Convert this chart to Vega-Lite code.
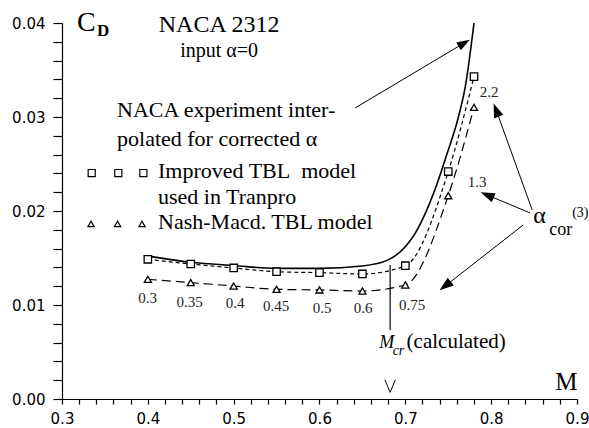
{
  "$schema": "https://vega.github.io/schema/vega-lite/v6.json",
  "width": 515,
  "height": 376,
  "autosize": {"type": "none"},
  "padding": {"left": 62, "top": 23, "right": 12, "bottom": 29},
  "background": "white",
  "config": {"view": {"stroke": null}},
  "datasets": {
    "curves": [
      {"series": "naca", "M": 0.40, "CD": 0.0152},
      {"series": "naca", "M": 0.45, "CD": 0.01455},
      {"series": "naca", "M": 0.50, "CD": 0.0142},
      {"series": "naca", "M": 0.55, "CD": 0.0139},
      {"series": "naca", "M": 0.60, "CD": 0.0139},
      {"series": "naca", "M": 0.65, "CD": 0.01415},
      {"series": "naca", "M": 0.68, "CD": 0.0148},
      {"series": "naca", "M": 0.70, "CD": 0.0162},
      {"series": "naca", "M": 0.71, "CD": 0.0174},
      {"series": "naca", "M": 0.72, "CD": 0.0191},
      {"series": "naca", "M": 0.737, "CD": 0.0229},
      {"series": "naca", "M": 0.749, "CD": 0.0262},
      {"series": "naca", "M": 0.761, "CD": 0.0297},
      {"series": "naca", "M": 0.770, "CD": 0.0333},
      {"series": "naca", "M": 0.780, "CD": 0.0400},
      {"series": "tbl", "M": 0.40, "CD": 0.01486},
      {"series": "tbl", "M": 0.45, "CD": 0.01436},
      {"series": "tbl", "M": 0.50, "CD": 0.01394},
      {"series": "tbl", "M": 0.55, "CD": 0.01354},
      {"series": "tbl", "M": 0.60, "CD": 0.01344},
      {"series": "tbl", "M": 0.65, "CD": 0.0133},
      {"series": "tbl", "M": 0.70, "CD": 0.01418},
      {"series": "tbl", "M": 0.75, "CD": 0.0242},
      {"series": "tbl", "M": 0.78, "CD": 0.0343},
      {"series": "nash", "M": 0.40, "CD": 0.01273},
      {"series": "nash", "M": 0.45, "CD": 0.01238},
      {"series": "nash", "M": 0.50, "CD": 0.01202},
      {"series": "nash", "M": 0.55, "CD": 0.01167},
      {"series": "nash", "M": 0.60, "CD": 0.0116},
      {"series": "nash", "M": 0.65, "CD": 0.01149},
      {"series": "nash", "M": 0.70, "CD": 0.01213},
      {"series": "nash", "M": 0.75, "CD": 0.02163},
      {"series": "nash", "M": 0.78, "CD": 0.03103}
    ],
    "legendSymbols": [
      {"series": "tbl", "M": 0.3346, "CD": 0.02404},
      {"series": "tbl", "M": 0.3656, "CD": 0.02404},
      {"series": "tbl", "M": 0.3948, "CD": 0.02404},
      {"series": "nash", "M": 0.3338, "CD": 0.01862},
      {"series": "nash", "M": 0.3647, "CD": 0.01862},
      {"series": "nash", "M": 0.3932, "CD": 0.01862}
    ],
    "arrows": [
      {"id": "a1", "M": 0.6415, "CD": 0.03096, "M2": 0.7685, "CD2": 0.03787},
      {"id": "a2", "M": 0.8478, "CD": 0.02011, "M2": 0.8058, "CD2": 0.03074},
      {"id": "a3", "M": 0.8455, "CD": 0.01979, "M2": 0.7953, "CD2": 0.0217},
      {"id": "a4", "M": 0.8373, "CD": 0.01851, "M2": 0.7464, "CD2": 0.01202}
    ],
    "mcr": [
      {"M": 0.6823, "CD": 0.01425, "M2": 0.6823, "CD2": 0.00735}
    ],
    "marker": [
      {"M": 0.6823, "CD": 0.00138}
    ],
    "texts": [
      {"kind": "C", "M": 0.3175, "CD": 0.03915, "label": "C"},
      {"kind": "D", "M": 0.3408, "CD": 0.03862, "label": "D"},
      {"kind": "title", "M": 0.4830, "CD": 0.03904, "label": "NACA 2312"},
      {"kind": "input", "M": 0.4830, "CD": 0.03638, "label": "input α=0"},
      {"kind": "legend", "M": 0.3641, "CD": 0.0300, "label": "NACA experiment inter-"},
      {"kind": "legend", "M": 0.3641, "CD": 0.02691, "label": "polated for corrected α"},
      {"kind": "legend", "M": 0.4119, "CD": 0.02351, "label": "Improved TBL\u00a0 model"},
      {"kind": "legend", "M": 0.4119, "CD": 0.02074, "label": "used in Tranpro"},
      {"kind": "legend", "M": 0.4119, "CD": 0.01809, "label": "Nash-Macd. TBL model"},
      {"kind": "alpha", "M": 0.3997, "CD": 0.01021, "label": "0.3"},
      {"kind": "alpha", "M": 0.4486, "CD": 0.00979, "label": "0.35"},
      {"kind": "alpha", "M": 0.5016, "CD": 0.00968, "label": "0.4"},
      {"kind": "alpha", "M": 0.5494, "CD": 0.00936, "label": "0.45"},
      {"kind": "alpha", "M": 0.6030, "CD": 0.00915, "label": "0.5"},
      {"kind": "alpha", "M": 0.6508, "CD": 0.00915, "label": "0.6"},
      {"kind": "alpha", "M": 0.7079, "CD": 0.00947, "label": "0.75"},
      {"kind": "alpha", "M": 0.7977, "CD": 0.03213, "label": "2.2"},
      {"kind": "alpha", "M": 0.7837, "CD": 0.02255, "label": "1.3"},
      {"kind": "Mtitle", "M": 0.8746, "CD": 0.00096, "label": "M"},
      {"kind": "alphacor", "M": 0.8490, "CD": 0.01872, "label": "α"},
      {"kind": "cor", "M": 0.8676, "CD": 0.01745, "label": "cor"},
      {"kind": "sup", "M": 0.8944, "CD": 0.01936, "label": "(3)"},
      {"kind": "Mcr", "M": 0.6695, "CD": 0.00543, "label": "M"},
      {"kind": "cr", "M": 0.6852, "CD": 0.00468, "label": "cr"},
      {"kind": "calc", "M": 0.7015, "CD": 0.00543, "label": "(calculated)"}
    ]
  },
  "encoding": {
    "x": {
      "field": "M", "type": "quantitative",
      "scale": {"domain": [0.3, 0.9], "nice": false, "zero": false},
      "axis": {
        "title": null, "grid": false,
        "values": [0.3,0.32,0.34,0.36,0.38,0.4,0.42,0.44,0.46,0.48,0.5,0.52,0.54,0.56,0.58,0.6,0.62,0.64,0.66,0.68,0.7,0.72,0.74,0.76,0.78,0.8,0.82,0.84,0.86,0.88,0.9],
        "labelExpr": "abs(datum.value*10 - round(datum.value*10)) < 0.01 ? format(datum.value, '.1f') : ''",
        "tickSize": 5, "tickColor": "black", "tickWidth": 1.2,
        "domainColor": "black", "domainWidth": 1.2,
        "labelColor": "black", "labelFont": "DejaVu Sans", "labelFontSize": 15,
        "labelPadding": 7, "labelFlush": false, "labelOverlap": false
      }
    },
    "y": {
      "field": "CD", "type": "quantitative",
      "scale": {"domain": [0, 0.04], "nice": false, "zero": false},
      "axis": {
        "title": null, "grid": false,
        "values": [0,0.002,0.004,0.006,0.008,0.01,0.012,0.014,0.016,0.018,0.02,0.022,0.024,0.026,0.028,0.03,0.032,0.034,0.036,0.038,0.04],
        "labelExpr": "abs(datum.value*100 - round(datum.value*100)) < 0.01 ? format(datum.value, '.2f') : ''",
        "tickSize": 9, "tickColor": "black", "tickWidth": 1.2,
        "domainColor": "black", "domainWidth": 1.2,
        "labelColor": "black", "labelFont": "DejaVu Sans", "labelFontSize": 15,
        "labelPadding": 8, "labelFlush": false, "labelOverlap": false
      }
    }
  },
  "layer": [
    {
      "data": {"name": "curves"},
      "transform": [{"filter": "datum.series == 'naca'"}],
      "mark": {"type": "line", "color": "black", "strokeWidth": 1.6, "interpolate": "monotone"}
    },
    {
      "data": {"name": "curves"},
      "transform": [{"filter": "datum.series == 'tbl'"}],
      "mark": {"type": "line", "color": "black", "strokeWidth": 1.2, "strokeDash": [4, 3], "interpolate": "monotone"}
    },
    {
      "data": {"name": "curves"},
      "transform": [{"filter": "datum.series == 'nash'"}],
      "mark": {"type": "line", "color": "black", "strokeWidth": 1.2, "strokeDash": [9, 5], "interpolate": "monotone"}
    },
    {
      "data": {"name": "curves"},
      "transform": [{"filter": "datum.series == 'tbl'"}],
      "mark": {"type": "point", "shape": "square", "size": 55, "filled": false, "fill": "white", "fillOpacity": 1, "stroke": "black", "strokeWidth": 1.3, "opacity": 1}
    },
    {
      "data": {"name": "curves"},
      "transform": [{"filter": "datum.series == 'nash'"}],
      "mark": {"type": "point", "shape": "triangle-up", "size": 50, "filled": false, "fill": "white", "fillOpacity": 1, "stroke": "black", "strokeWidth": 1.3, "opacity": 1}
    },
    {
      "data": {"name": "legendSymbols"},
      "transform": [{"filter": "datum.series == 'tbl'"}],
      "mark": {"type": "point", "shape": "square", "size": 50, "filled": false, "stroke": "black", "strokeWidth": 1.2, "opacity": 1}
    },
    {
      "data": {"name": "legendSymbols"},
      "transform": [{"filter": "datum.series == 'nash'"}],
      "mark": {"type": "point", "shape": "triangle-up", "size": 40, "filled": false, "stroke": "black", "strokeWidth": 1.2, "opacity": 1}
    },
    {
      "data": {"name": "arrows"},
      "mark": {"type": "rule", "color": "black", "strokeWidth": 1},
      "encoding": {"x2": {"field": "M2"}, "y2": {"field": "CD2"}}
    },
    {
      "data": {"name": "mcr"},
      "mark": {"type": "rule", "color": "black", "strokeWidth": 1.2},
      "encoding": {"x2": {"field": "M2"}, "y2": {"field": "CD2"}}
    },
    {
      "data": {"name": "arrows"},
      "transform": [{"filter": "datum.id == 'a1'"}],
      "mark": {"type": "point", "shape": "M0,-1L0.7,1L-0.7,1Z", "size": 170, "filled": true, "color": "black", "opacity": 1, "angle": 59},
      "encoding": {"x": {"field": "M2", "type": "quantitative"}, "y": {"field": "CD2", "type": "quantitative"}}
    },
    {
      "data": {"name": "arrows"},
      "transform": [{"filter": "datum.id == 'a2'"}],
      "mark": {"type": "point", "shape": "M0,-1L0.7,1L-0.7,1Z", "size": 200, "filled": true, "color": "black", "opacity": 1, "angle": -21},
      "encoding": {"x": {"field": "M2", "type": "quantitative"}, "y": {"field": "CD2", "type": "quantitative"}}
    },
    {
      "data": {"name": "arrows"},
      "transform": [{"filter": "datum.id == 'a3'"}],
      "mark": {"type": "point", "shape": "M0,-1L0.7,1L-0.7,1Z", "size": 200, "filled": true, "color": "black", "opacity": 1, "angle": -67},
      "encoding": {"x": {"field": "M2", "type": "quantitative"}, "y": {"field": "CD2", "type": "quantitative"}}
    },
    {
      "data": {"name": "arrows"},
      "transform": [{"filter": "datum.id == 'a4'"}],
      "mark": {"type": "point", "shape": "M0,-1L0.7,1L-0.7,1Z", "size": 200, "filled": true, "color": "black", "opacity": 1, "angle": -128},
      "encoding": {"x": {"field": "M2", "type": "quantitative"}, "y": {"field": "CD2", "type": "quantitative"}}
    },
    {
      "data": {"name": "marker"},
      "mark": {"type": "point", "shape": "M-1,-1.2L0,1.2L1,-1.2", "size": 110, "filled": false, "stroke": "black", "strokeWidth": 1, "opacity": 1}
    },
    {
      "data": {"name": "texts"},
      "transform": [{"filter": "datum.kind == 'C'"}],
      "mark": {"type": "text", "font": "Liberation Serif", "fontSize": 28, "align": "left", "baseline": "alphabetic", "color": "black"},
      "encoding": {"text": {"field": "label"}}
    },
    {
      "data": {"name": "texts"},
      "transform": [{"filter": "datum.kind == 'D'"}],
      "mark": {"type": "text", "font": "Liberation Serif", "fontSize": 17, "fontWeight": "bold", "align": "left", "baseline": "alphabetic", "color": "black"},
      "encoding": {"text": {"field": "label"}}
    },
    {
      "data": {"name": "texts"},
      "transform": [{"filter": "datum.kind == 'title'"}],
      "mark": {"type": "text", "font": "Liberation Serif", "fontSize": 24, "align": "center", "baseline": "alphabetic", "color": "black"},
      "encoding": {"text": {"field": "label"}}
    },
    {
      "data": {"name": "texts"},
      "transform": [{"filter": "datum.kind == 'input'"}],
      "mark": {"type": "text", "font": "Liberation Serif", "fontSize": 20, "align": "center", "baseline": "alphabetic", "color": "black"},
      "encoding": {"text": {"field": "label"}}
    },
    {
      "data": {"name": "texts"},
      "transform": [{"filter": "datum.kind == 'legend'"}],
      "mark": {"type": "text", "font": "Liberation Serif", "fontSize": 22, "align": "left", "baseline": "alphabetic", "color": "black"},
      "encoding": {"text": {"field": "label"}}
    },
    {
      "data": {"name": "texts"},
      "transform": [{"filter": "datum.kind == 'alpha'"}],
      "mark": {"type": "text", "font": "Liberation Serif", "fontSize": 15, "align": "center", "baseline": "alphabetic", "color": "#222222"},
      "encoding": {"text": {"field": "label"}}
    },
    {
      "data": {"name": "texts"},
      "transform": [{"filter": "datum.kind == 'Mtitle'"}],
      "mark": {"type": "text", "font": "Liberation Serif", "fontSize": 25, "align": "left", "baseline": "alphabetic", "color": "black"},
      "encoding": {"text": {"field": "label"}}
    },
    {
      "data": {"name": "texts"},
      "transform": [{"filter": "datum.kind == 'alphacor'"}],
      "mark": {"type": "text", "font": "Liberation Serif", "fontSize": 24, "align": "left", "baseline": "alphabetic", "color": "black"},
      "encoding": {"text": {"field": "label"}}
    },
    {
      "data": {"name": "texts"},
      "transform": [{"filter": "datum.kind == 'cor'"}],
      "mark": {"type": "text", "font": "Liberation Serif", "fontSize": 18, "align": "left", "baseline": "alphabetic", "color": "black"},
      "encoding": {"text": {"field": "label"}}
    },
    {
      "data": {"name": "texts"},
      "transform": [{"filter": "datum.kind == 'sup'"}],
      "mark": {"type": "text", "font": "Liberation Serif", "fontSize": 14, "align": "left", "baseline": "alphabetic", "color": "black"},
      "encoding": {"text": {"field": "label"}}
    },
    {
      "data": {"name": "texts"},
      "transform": [{"filter": "datum.kind == 'Mcr'"}],
      "mark": {"type": "text", "font": "Liberation Serif", "fontSize": 18, "fontStyle": "italic", "align": "left", "baseline": "alphabetic", "color": "black"},
      "encoding": {"text": {"field": "label"}}
    },
    {
      "data": {"name": "texts"},
      "transform": [{"filter": "datum.kind == 'cr'"}],
      "mark": {"type": "text", "font": "Liberation Serif", "fontSize": 14, "fontStyle": "italic", "align": "left", "baseline": "alphabetic", "color": "black"},
      "encoding": {"text": {"field": "label"}}
    },
    {
      "data": {"name": "texts"},
      "transform": [{"filter": "datum.kind == 'calc'"}],
      "mark": {"type": "text", "font": "Liberation Serif", "fontSize": 21, "align": "left", "baseline": "alphabetic", "color": "black"},
      "encoding": {"text": {"field": "label"}}
    }
  ]
}
